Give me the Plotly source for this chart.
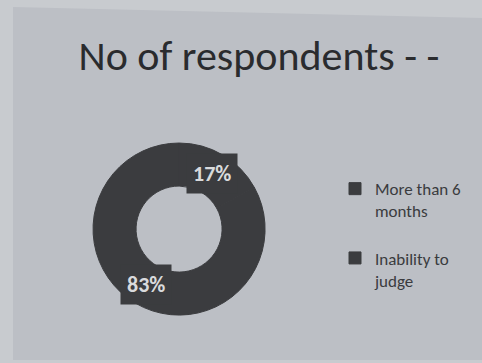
import math
import plotly.graph_objects as go

# Survey answers and their shares
categories = [" <br>More than 6<br>months", " <br>Inability to<br>judge"]
shares = [17, 83]
share_labels = ["17%", "83%"]

W, H = 482, 363
ring_color = "#3b3c3f"
font_family = "Carlito, Lato, 'Open Sans', sans-serif"

# Doughnut placement (paper fractions)
dom_x = [0.193, 0.550]
dom_y = [0.132, 0.606]
hole = 0.5

fig = go.Figure()
fig.add_trace(go.Pie(
    labels=categories,
    values=shares,
    hole=hole,
    sort=False,
    direction="clockwise",
    rotation=0,
    marker=dict(colors=[ring_color, ring_color], line=dict(color=ring_color, width=1)),
    textinfo="none",
    hoverinfo="label+percent",
    domain=dict(x=dom_x, y=dom_y),
    showlegend=True,
))

# Percentage labels in dark boxes at the middle of each ring segment
cx = (dom_x[0] + dom_x[1]) / 2 * W
cy = H - (dom_y[0] + dom_y[1]) / 2 * H
r_out = min((dom_x[1] - dom_x[0]) * W, (dom_y[1] - dom_y[0]) * H) / 2
r_mid = r_out * (1 + hole) / 2
total = sum(shares)
start = 0.0
annotations = []
for v, lab in zip(shares, share_labels):
    mid = (start + v / 2) / total * 2 * math.pi
    start += v
    px = cx + r_mid * math.sin(mid)
    py = cy - r_mid * math.cos(mid)
    annotations.append(dict(
        x=px / W, y=1 - py / H, xref="paper", yref="paper",
        text="<b>" + lab + "</b>", showarrow=False,
        font=dict(family=font_family, size=22, color="#d9dadc"),
        bgcolor=ring_color, borderpad=6,
        xanchor="center", yanchor="middle",
    ))

fig.update_layout(
    width=W, height=H, autosize=False,
    margin=dict(l=0, r=0, t=0, b=0),
    paper_bgcolor="#c8cbcf",
    plot_bgcolor="#c8cbcf",
    title=dict(
        text="No of respondents - -",
        x=259 / W, xanchor="center",
        y=1 - 55 / H, yanchor="middle",
        xref="paper", yref="paper",
        font=dict(family=font_family, size=42, color="#2a2b2e"),
    ),
    legend=dict(
        x=335 / W, xanchor="left",
        y=1 - 149 / H, yanchor="top",
        bgcolor="rgba(0,0,0,0)",
        font=dict(family=font_family, size=17, color="#3a3b3e"),
        itemclick=False, itemdoubleclick=False,
    ),
    annotations=annotations,
    shapes=[dict(
        type="path", xref="paper", yref="paper", layer="below",
        path="M {:.4f},{:.4f} L 1,{:.4f} L 1,{:.4f} L {:.4f},{:.4f} Z".format(
            13 / W, 1 - 7 / H, 1 - 18 / H, 1 - 360 / H, 13 / W, 1 - 360 / H),
        fillcolor="#bcbfc5", line=dict(width=0),
    )],
)

fig.write_html("out.html")
